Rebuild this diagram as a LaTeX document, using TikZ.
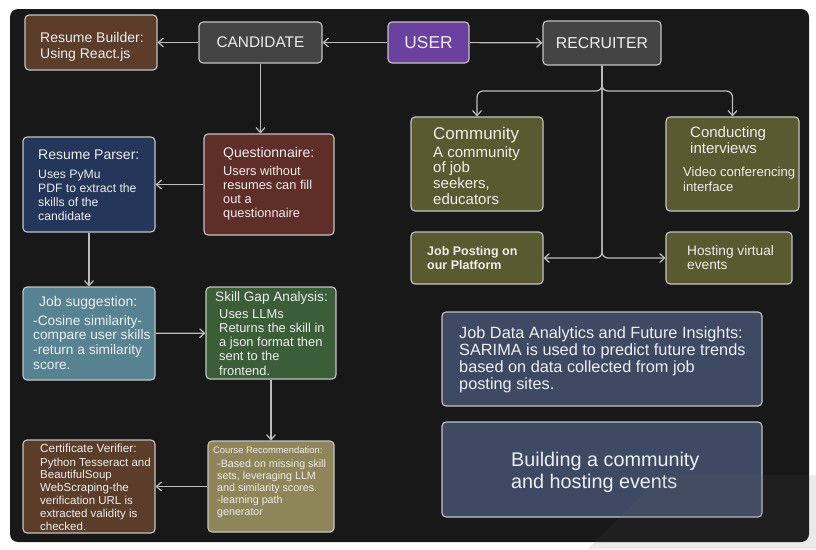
\documentclass[tikz,border=0pt]{standalone}
\usepackage{fontspec}
\setmainfont{Liberation Sans}
\usetikzlibrary{arrows.meta}

\definecolor{panel}{HTML}{181818}
\definecolor{boxline}{HTML}{C4C4C4}
\definecolor{wire}{HTML}{BDBDBD}
\definecolor{ink}{HTML}{EEEEEE}
\definecolor{greybox}{HTML}{444444}
\definecolor{userbox}{HTML}{6B41A0}
\definecolor{brownbox}{HTML}{5C3D2A}
\definecolor{olivebox}{HTML}{5A5A30}
\definecolor{navybox}{HTML}{243659}
\definecolor{maroonbox}{HTML}{5F2E28}
\definecolor{tealbox}{HTML}{578291}
\definecolor{greenbox}{HTML}{3B5E39}
\definecolor{khakibox}{HTML}{8E8558}
\definecolor{slatebox}{HTML}{3E4A64}
\definecolor{veil}{HTML}{595959}

\newcommand{\fsz}[2]{\fontsize{#1}{#2}\selectfont}

\begin{document}
\begin{tikzpicture}[x=1pt,y=-1pt,
  box/.style={draw=boxline, line width=1.1pt, rounded corners=4pt, inner sep=0pt, text=ink},
  conn/.style={draw=wire, line width=1.2pt, -{Straight Barb[length=5pt,width=9pt]}},
  % multi-line labels are placed by the baseline of their last line
  txt/.style={anchor=base west, inner sep=0pt, align=left, text=ink}]

\useasboundingbox (0,0) rectangle (816,549);
\fill[white] (0,0) rectangle (816,549);
\fill[panel, rounded corners=8pt] (10,9) rectangle (809,542);

% ---- top row ----
\node[box, fill=brownbox, minimum width=132pt, minimum height=55pt] (rb) at (91,42.5) {};
\node[txt, font=\fsz{14}{16}] (rb-t) at (40,58) {Resume Builder:\\Using React.js};

\node[box, fill=greybox, minimum width=123pt, minimum height=41pt, font=\fsz{15.4}{18}] (cand) at (260.5,42.5) {CANDIDATE};
\node[box, fill=userbox, minimum width=81pt, minimum height=41pt, font=\fsz{17.3}{20}] (user) at (428.5,42.5) {USER};
\node[box, fill=greybox, minimum width=118pt, minimum height=44pt, font=\fsz{15.8}{18}] (rec) at (602,43) {RECRUITER};

% ---- candidate side ----
\node[box, fill=navybox, minimum width=132pt, minimum height=95pt] (rp) at (89,184.5) {};
\node[txt, font=\fsz{14}{16}] (rp-h) at (38,159) {Resume Parser:};
\node[txt, font=\fsz{12.2}{13.7}] (rp-b) at (38,220) {Uses PyMu\\PDF to extract the\\skills of the\\candidate};

\node[box, fill=maroonbox, minimum width=130pt, minimum height=101pt] (quest) at (269,184.5) {};
\node[txt, font=\fsz{14}{16}] (quest-h) at (223,157) {Questionnaire:};
\node[txt, font=\fsz{12.8}{14}] (quest-b) at (223,217) {Users without\\resumes can fill\\out a\\questionnaire};

\node[box, fill=tealbox, minimum width=132pt, minimum height=93pt] (js) at (89,333.5) {};
\node[txt, font=\fsz{14}{16}] (js-h) at (39,306) {Job suggestion:};
\node[txt, font=\fsz{13.7}{14.6}] (js-b) at (33,369) {-Cosine similarity-\\compare user skills\\-return a similarity\\score.};

\node[box, fill=greenbox, minimum width=130pt, minimum height=92pt] (sga) at (271,333) {};
\node[txt, font=\fsz{13.6}{16}] (sga-h) at (215,301) {Skill Gap Analysis:};
\node[txt, font=\fsz{12.9}{14.2}] (sga-b) at (219,375) {Uses LLMs\\Returns the skill in\\a json format then\\sent to the\\frontend.};

\node[box, fill=brownbox, minimum width=132pt, minimum height=93pt] (cv) at (89,486.5) {};
\node[txt, font=\fsz{11.8}{13}] (cv-h) at (40,452) {Certificate Verifier:};
\node[txt, font=\fsz{11.5}{12.8}] (cv-b) at (40,530) {Python Tesseract and\\BeautifulSoup\\WebScraping-the\\verification URL is\\extracted validity is\\checked.};

\node[box, fill=khakibox, minimum width=126pt, minimum height=91pt] (cr) at (271,486.5) {};
\node[txt, font=\fsz{9.4}{11}] (cr-h) at (213,453) {Course Recommendation:};
\node[txt, font=\fsz{10.7}{11.8}] (cr-b) at (217,515) {-Based on missing skill\\sets, leveraging LLM\\and similarity scores.\\-learning path\\generator};

% ---- recruiter side ----
\node[box, fill=olivebox, minimum width=132pt, minimum height=94pt] (comm) at (477,164) {};
\node[txt, font=\fsz{17}{19}] (comm-h) at (433,139) {Community};
\node[txt, font=\fsz{15}{15.8}] (comm-b) at (433,204.4) {A community\\of job\\seekers,\\educators};

\node[box, fill=olivebox, minimum width=133pt, minimum height=94pt] (conduct) at (732.5,164) {};
\node[txt, font=\fsz{15}{16}] (conduct-h) at (690,153) {Conducting\\interviews};
\node[txt, font=\fsz{13.1}{15}] (conduct-b) at (683,191) {Video conferencing\\interface};

\node[box, fill=olivebox, minimum width=132pt, minimum height=52pt] (jobpost) at (477,258) {};
\node[txt, font=\fsz{12.5}{14}\bfseries] (jobpost-t) at (427,269) {Job Posting on\\our Platform};

\node[box, fill=olivebox, minimum width=126pt, minimum height=52pt] (host) at (729,258) {};
\node[txt, font=\fsz{13.7}{14}] (host-t) at (687,269) {Hosting virtual\\events};

% ---- analytics and community panels ----
\node[box, fill=slatebox, minimum width=320pt, minimum height=94pt] (jda) at (602,359) {};
\node[txt, font=\fsz{16.3}{17}] (jda-t) at (459,389) {Job Data Analytics and Future Insights:\\SARIMA is used to predict future trends\\based on data collected from job\\posting sites.};

\node[box, fill=slatebox, minimum width=320pt, minimum height=95pt] (build) at (602,469.5) {};
\node[txt, font=\fsz{19.8}{22.5}] (build-t) at (511,488.5) {Building a community\\and hosting events};

% ---- connectors ----
\draw[conn] (user) -- (cand);
\draw[conn] (user) -- (rec);
\draw[conn] (cand) -- (rb);
\draw[conn] (cand.south) -- (cand.south |- quest.north);
\draw[conn] (quest) -- (rp);
\draw[conn] (rp) -- (js);
\draw[conn] (js) -- (sga);
\draw[conn] (sga) -- (cr);
\draw[conn] (cr) -- (cv);

\coordinate (split) at (602,91);
\draw[conn, rounded corners=6pt] (rec.south) -- (split) -- (split -| comm.north) -- (comm.north);
\draw[conn, rounded corners=6pt] (rec.south) -- (split) -- (split -| conduct.north) -- (conduct.north);
\draw[conn, rounded corners=6pt] (rec.south) -- (rec.south |- jobpost.east) -- (jobpost.east);
\draw[conn, rounded corners=6pt] (rec.south) -- (rec.south |- host.west) -- (host.west);

% ---- soft grey sheen in the lower right ----
\fill[veil, opacity=0.12] (588,549) -- (662,475) -- (816,475) -- (816,549) -- cycle;
\end{tikzpicture}
\end{document}
